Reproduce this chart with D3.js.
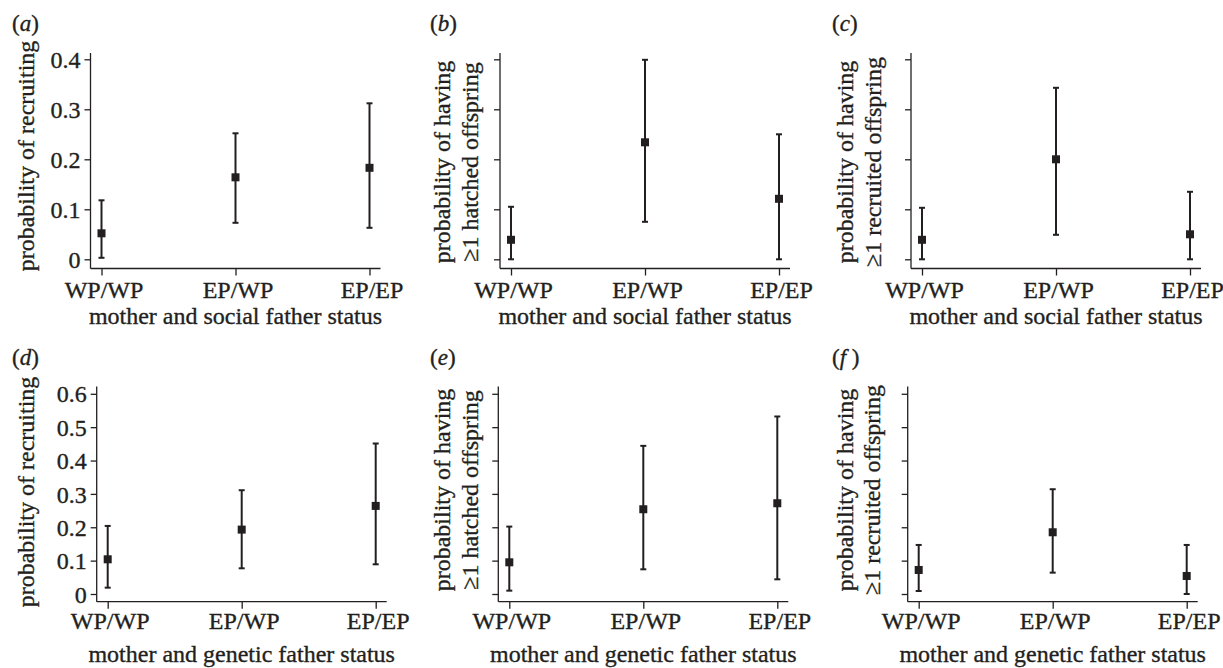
<!DOCTYPE html>
<html lang="en">
<head>
<meta charset="UTF-8">
<title>Probability of recruiting by parental status</title>
<script src="https://d3js.org/d3.v7.min.js"></script>
<style>
    body {
        margin: 0;
        background: #fff;
    }

    svg text {
        font-family: "Liberation Serif", "Times New Roman", serif;
        fill: #231f20;
        stroke: #231f20;
        stroke-width: 0.35px;
    }

    .axis line,
    .axis-line {
        stroke: #231f20;
        stroke-width: 1.3px;
    }

    .err {
        stroke: #231f20;
        stroke-width: 2px;
    }

    .mark {
        fill: #231f20;
    }
</style>
</head>
<body>
<svg id="chart" width="1223" height="668"></svg>
<script>
    const categories = ["WP/WP", "EP/WP", "EP/EP"];

    // (a) mother and social father status: probability of recruiting
    const socialRecruitEst = [0.052, 0.164, 0.183];
    const socialRecruitLow = [0.003, 0.073, 0.063];
    const socialRecruitHigh = [0.118, 0.252, 0.312];

    // (b) social father: probability of having >=1 hatched offspring
    const socialHatchEst = [0.039, 0.234, 0.121];
    const socialHatchLow = [0.0, 0.075, 0.0];
    const socialHatchHigh = [0.105, 0.399, 0.25];

    // (c) social father: probability of having >=1 recruited offspring
    const socialRecOffEst = [0.039, 0.2, 0.05];
    const socialRecOffLow = [0.0, 0.049, 0.0];
    const socialRecOffHigh = [0.103, 0.343, 0.135];

    // (d) genetic father: probability of recruiting
    const geneticRecruitEst = [0.104, 0.193, 0.264];
    const geneticRecruitLow = [0.019, 0.077, 0.089];
    const geneticRecruitHigh = [0.204, 0.311, 0.451];

    // (e) genetic father: >=1 hatched offspring
    const geneticHatchEst = [0.095, 0.254, 0.272];
    const geneticHatchLow = [0.01, 0.074, 0.044];
    const geneticHatchHigh = [0.202, 0.444, 0.532];

    // (f) genetic father: >=1 recruited offspring
    const geneticRecOffEst = [0.072, 0.185, 0.054];
    const geneticRecOffLow = [0.009, 0.064, 0.0];
    const geneticRecOffHigh = [0.147, 0.314, 0.147];

    const ticksTop = [0, 0.1, 0.2, 0.3, 0.4];
    const ticksBottom = [0, 0.1, 0.2, 0.3, 0.4, 0.5, 0.6];

    const hatchLabel = ["probability of having", "\u22651 hatched offspring"];
    const recOffLabel = ["probability of having", "\u22651 recruited offspring"];

    // row layout (top / bottom)
    const rows = [
        {tagY: 31, axTop: 53, axisY: 268.5, y0: 259.3, y1: 59.3, tickBase: 298, titleBase: 324, ymax: 0.4, ticks: ticksTop},
        {tagY: 365, axTop: 386.5, axisY: 601.7, y0: 594, y1: 393.8, tickBase: 629, titleBase: 662, ymax: 0.6, ticks: ticksBottom}
    ];

    const panels = [
        {tag: "a", row: 0, x0: 90.5, tagX: 12, est: socialRecruitEst, lo: socialRecruitLow, hi: socialRecruitHigh,
            showLabels: true, ylab: ["probability of recruiting"], ylabX: [34], ylabY: 156, xtitle: "mother and social father status"},
        {tag: "b", row: 0, x0: 500, tagX: 430, est: socialHatchEst, lo: socialHatchLow, hi: socialHatchHigh,
            showLabels: false, ylab: hatchLabel, ylabX: [450, 478], ylabY: 162, xtitle: "mother and social father status"},
        {tag: "c", row: 0, x0: 911, tagX: 832, est: socialRecOffEst, lo: socialRecOffLow, hi: socialRecOffHigh,
            showLabels: false, ylab: recOffLabel, ylabX: [853, 881], ylabY: 162, xtitle: "mother and social father status"},
        {tag: "d", row: 1, x0: 96.7, tagX: 12, est: geneticRecruitEst, lo: geneticRecruitLow, hi: geneticRecruitHigh,
            showLabels: true, ylab: ["probability of recruiting"], ylabX: [34], ylabY: 492, xtitle: "mother and genetic father status"},
        {tag: "e", row: 1, x0: 498.3, tagX: 430, est: geneticHatchEst, lo: geneticHatchLow, hi: geneticHatchHigh,
            showLabels: false, ylab: hatchLabel, ylabX: [450, 478], ylabY: 490, xtitle: "mother and genetic father status"},
        {tag: "f", row: 1, x0: 907.7, tagX: 832, est: geneticRecOffEst, lo: geneticRecOffLow, hi: geneticRecOffHigh,
            showLabels: false, ylab: recOffLabel, ylabX: [853, 880], ylabY: 490, xtitle: "mother and genetic father status"}
    ];

    const svg = d3.select("#chart");
    const fmt = d => d === 0 ? "0" : d3.format(".1f")(d);

    function drawPanel(p) {
        const r = rows[p.row];
        const g = svg.append("g").attr("class", "panel-" + p.tag);

        const x = d3.scalePoint()
            .domain(categories)
            .range([p.x0 + 11, p.x0 + 279]);

        const y = d3.scaleLinear()
            .domain([0, r.ymax])
            .range([r.y0, r.y1]);

        // y axis
        const yAxis = d3.axisLeft(y)
            .tickValues(r.ticks)
            .tickSize(6)
            .tickPadding(4)
            .tickFormat(p.showLabels ? fmt : "");

        const ya = g.append("g")
            .attr("class", "axis")
            .attr("transform", `translate(${p.x0},0)`)
            .call(yAxis);
        ya.select(".domain").remove();
        ya.selectAll("text")
            .style("font-size", "24px")
            .attr("dy", "0.34em");

        g.append("line")
            .attr("class", "axis-line")
            .attr("x1", p.x0).attr("x2", p.x0)
            .attr("y1", r.axTop).attr("y2", r.axisY);

        // x axis
        const xAxis = d3.axisBottom(x).tickSize(7).tickSizeOuter(0);
        const xa = g.append("g")
            .attr("class", "axis")
            .attr("transform", `translate(0,${r.axisY})`)
            .call(xAxis);
        xa.select(".domain").remove();
        xa.selectAll("text")
            .style("font-size", "24px")
            .attr("x", 2)
            .attr("y", r.tickBase - r.axisY)
            .attr("dy", 0);

        g.append("line")
            .attr("class", "axis-line")
            .attr("x1", p.x0).attr("x2", p.x0 + 290)
            .attr("y1", r.axisY).attr("y2", r.axisY);

        // x title
        g.append("text")
            .attr("x", x(categories[1]))
            .attr("y", r.titleBase)
            .attr("text-anchor", "middle")
            .style("font-size", "24px")
            .text(p.xtitle);

        // y title (one or two lines)
        p.ylab.forEach((line, i) => {
            g.append("text")
                .attr("transform", `translate(${p.ylabX[i]},${p.ylabY}) rotate(-90)`)
                .attr("text-anchor", "middle")
                .style("font-size", "24px")
                .text(line);
        });

        // panel tag
        const t = g.append("text")
            .attr("x", p.tagX)
            .attr("y", r.tagY)
            .style("font-size", "23px");
        t.append("tspan").text("(");
        t.append("tspan").style("font-style", "italic").text(p.tag);
        t.append("tspan").text(p.tag === "f" ? " )" : ")");

        // error bars
        const pts = categories.map((c, i) => ({c: c, est: p.est[i], lo: p.lo[i], hi: p.hi[i]}));

        g.selectAll(".err-v")
            .data(pts)
            .enter().append("line")
            .attr("class", "err")
            .attr("x1", d => x(d.c)).attr("x2", d => x(d.c))
            .attr("y1", d => y(d.lo)).attr("y2", d => y(d.hi));

        ["lo", "hi"].forEach(k => {
            g.selectAll(".cap-" + k)
                .data(pts)
                .enter().append("line")
                .attr("class", "err")
                .attr("x1", d => x(d.c) - 3).attr("x2", d => x(d.c) + 3)
                .attr("y1", d => y(d[k])).attr("y2", d => y(d[k]));
        });

        g.selectAll(".mark")
            .data(pts)
            .enter().append("rect")
            .attr("class", "mark")
            .attr("x", d => x(d.c) - 4)
            .attr("y", d => y(d.est) - 4)
            .attr("width", 8)
            .attr("height", 8);
    }

    panels.forEach(drawPanel);
</script>
</body>
</html>
